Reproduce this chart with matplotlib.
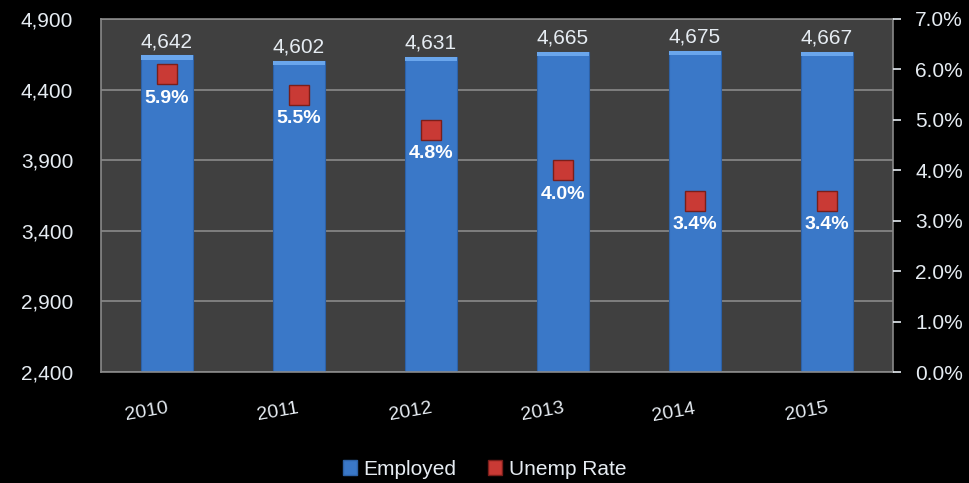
import matplotlib.pyplot as plt
from matplotlib.patches import Patch

years = ["2010", "2011", "2012", "2013", "2014", "2015"]
employed = [4642, 4602, 4631, 4665, 4675, 4667]
unemp_rate = [5.9, 5.5, 4.8, 4.0, 3.4, 3.4]

left_ticks = [2400, 2900, 3400, 3900, 4400, 4900]
right_ticks = [0, 1, 2, 3, 4, 5, 6, 7]

TXT = "#e6ecf2"
BAR = "#3a78c8"
RED = "#c93a35"

plt.rcParams["font.family"] = ["Liberation Sans", "DejaVu Sans"]

fig = plt.figure(figsize=(9.69, 4.83), dpi=100)
fig.patch.set_facecolor("black")
ax = fig.add_axes([0.1042, 0.2298, 0.8174, 0.7309])
ax.set_facecolor("#404040")

x = list(range(len(years)))
ax.bar(x, employed, width=0.39, color=BAR, edgecolor="#2d62a8",
       linewidth=0.8, zorder=2)
# lighter bevel on top of each bar
ax.bar(x, [30] * len(x), bottom=[v - 30 for v in employed], width=0.39,
       color="#6aa6ec", linewidth=0, zorder=2.1)

ax.set_xlim(-0.5, len(years) - 0.5)
ax.set_ylim(2400, 4900)
ax.set_yticks(left_ticks)
ax.set_yticklabels([f"{v:,}" for v in left_ticks])
ax.grid(axis="y", color="#8a8a8a", linewidth=1.2, zorder=0)
ax.set_xticks(x)
ax.set_xticklabels([])
ax.tick_params(axis="x", length=0)
ax.tick_params(axis="y", length=0, colors=TXT, labelsize=15, pad=20)
for s in ax.spines.values():
    s.set_color("#8a8a8a")
    s.set_linewidth(1.2)

for xi, v in zip(x, employed):
    ax.annotate(f"{v:,}", (xi, v), xytext=(0, 3), textcoords="offset points",
                ha="center", va="bottom", color=TXT, fontsize=15, zorder=5)

for xi, yr in zip(x, years):
    ax.annotate(yr, (xi, 0), xycoords=("data", "axes fraction"),
                xytext=(-15, -29), textcoords="offset points",
                ha="center", va="center", rotation=10, color=TXT,
                fontsize=14, annotation_clip=False)

ax2 = ax.twinx()
ax2.set_ylim(0, 7)
ax2.set_yticks(right_ticks)
ax2.set_yticklabels([f"{v:.1f}%" for v in right_ticks])
ax2.tick_params(axis="y", colors=TXT, labelsize=15, length=6, width=1.2,
                direction="out", pad=10)
for t in ax2.get_yticklines():
    t.set_color("#8a8a8a")
for s in ax2.spines.values():
    s.set_visible(False)
ax2.plot(x, unemp_rate, linestyle="none", marker="s", markersize=15,
         markerfacecolor=RED, markeredgecolor="#7a1e1a", markeredgewidth=1,
         zorder=4)
for xi, v in zip(x, unemp_rate):
    ax2.annotate(f"{v:.1f}%", (xi, v), xytext=(0, -11), textcoords="offset points",
                 ha="center", va="top", color="white", fontsize=14,
                 fontweight="bold", zorder=5)

handles = [
    Patch(facecolor=BAR, edgecolor="#2d62a8", label="Employed"),
    Patch(facecolor=RED, edgecolor="#7a1e1a", label="Unemp Rate"),
]
leg = fig.legend(handles=handles, loc="lower center", ncol=2, frameon=False,
                 bbox_to_anchor=(0.5, -0.03), fontsize=15, handlelength=0.7,
                 handleheight=0.7, handletextpad=0.3, columnspacing=1.5)
for t in leg.get_texts():
    t.set_color(TXT)

fig.savefig("out.png", dpi=100, facecolor=fig.get_facecolor())
